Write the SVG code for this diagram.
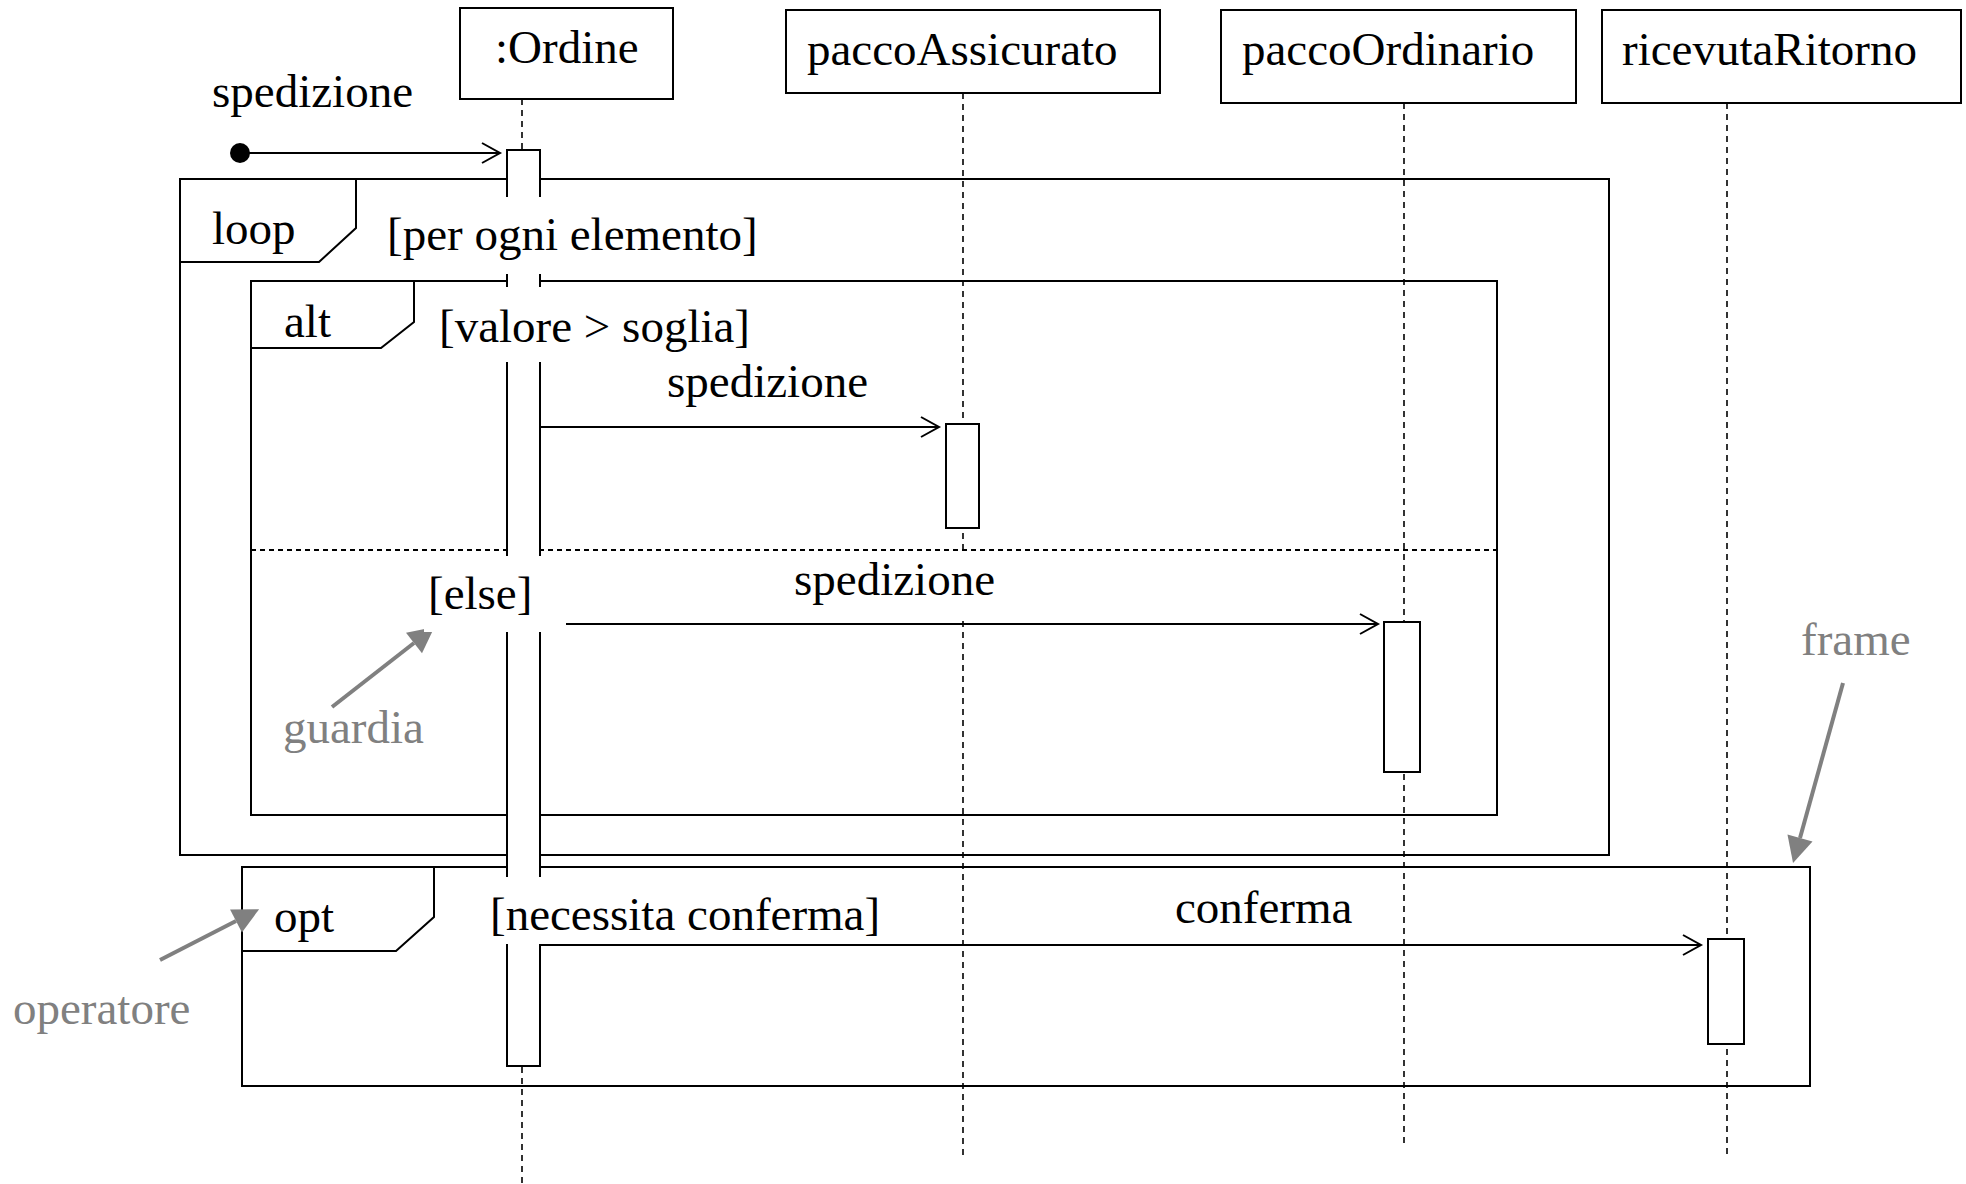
<svg xmlns="http://www.w3.org/2000/svg" width="1966" height="1184" viewBox="0 0 1966 1184">
<style>
text{font-family:"Liberation Serif","Times New Roman",serif;font-size:47px;fill:#000}
.note{fill:#808080}
.box{fill:#fff;stroke:#000;stroke-width:2}
.frame{fill:none;stroke:#000;stroke-width:2}
.life{stroke:#000;stroke-width:1.6;stroke-dasharray:6 5;fill:none}
.sep{stroke:#000;stroke-width:2;stroke-dasharray:5 4;fill:none}
.msg{stroke:#000;stroke-width:2.2;fill:none;marker-end:url(#open)}
.act{fill:#fff;stroke:#000;stroke-width:2}
.mask{fill:#fff;stroke:none}
.garrow{stroke:#808080;stroke-width:4;fill:none;marker-end:url(#tri)}
</style>
<defs>
<marker id="open" markerUnits="userSpaceOnUse" markerWidth="24" markerHeight="24" viewBox="-20 -12 22 24" refX="0" refY="0" orient="auto" overflow="visible">
<path d="M-18,-10 L0,0 L-18,10" fill="none" stroke="#000" stroke-width="2"/>
</marker>
<marker id="tri" markerUnits="userSpaceOnUse" markerWidth="26" markerHeight="26" viewBox="0 0 26 26" refX="0" refY="13" orient="auto" overflow="visible">
<path d="M0,0 L26,13 L0,26 z" fill="#808080"/>
</marker>
</defs>
<rect width="1966" height="1184" fill="#fff"/>

<g id="frames">
<g id="frame-loop">
<rect class="frame" x="180" y="179" width="1429" height="676"/>
<path class="frame" d="M180,262 L319,262 L356,228 L356,179"/>
<text x="212" y="244">loop</text>
</g>
<g id="frame-alt">
<rect class="frame" x="251" y="281" width="1246" height="534"/>
<path class="frame" d="M251,348 L381,348 L414,322 L414,281"/>
<line class="sep" x1="251" y1="550" x2="1497" y2="550"/>
<text x="284" y="337">alt</text>
</g>
<g id="frame-opt">
<rect class="frame" x="242" y="867" width="1568" height="219"/>
<path class="frame" d="M242,951 L396,951 L434,917 L434,867"/>
<text x="274" y="932">opt</text>
</g>
</g>

<g id="lifelines">
<line class="life" x1="522" y1="99" x2="522" y2="1184"/>
<line class="life" x1="963" y1="93" x2="963" y2="1156"/>
<line class="life" x1="1404" y1="103" x2="1404" y2="1148"/>
<line class="life" x1="1727" y1="103" x2="1727" y2="1154"/>
</g>

<g id="node-ordine">
<rect class="box" x="460" y="8" width="213" height="91"/>
<text x="495" y="63">:Ordine</text>
</g>
<g id="node-paccoAssicurato">
<rect class="box" x="786" y="10" width="374" height="83"/>
<text x="807" y="65">paccoAssicurato</text>
</g>
<g id="node-paccoOrdinario">
<rect class="box" x="1221" y="10" width="355" height="93"/>
<text x="1242" y="65">paccoOrdinario</text>
</g>
<g id="node-ricevutaRitorno">
<rect class="box" x="1602" y="10" width="359" height="93"/>
<text x="1622" y="65">ricevutaRitorno</text>
</g>

<g id="connectors">
<circle cx="240" cy="153" r="10" fill="#000"/>
<line class="msg" x1="240" y1="153" x2="500" y2="153"/>
<line class="msg" x1="540" y1="427" x2="939" y2="427"/>
<line class="msg" x1="540" y1="624" x2="1378" y2="624"/>
<line class="msg" x1="540" y1="945" x2="1701" y2="945"/>
<line class="garrow" x1="332" y1="707" x2="414" y2="643"/>
<line class="garrow" x1="160" y1="960" x2="236" y2="921"/>
<line class="garrow" x1="1843" y1="683" x2="1800" y2="838"/>
</g>

<g id="activations">
<rect class="act" x="507" y="150" width="33" height="916"/>
<rect class="act" x="946" y="424" width="33" height="104"/>
<rect class="act" x="1384" y="622" width="36" height="150"/>
<rect class="act" x="1708" y="939" width="36" height="105"/>
</g>

<g id="labels">
<rect class="mask" x="380" y="197" width="388" height="77"/>
<text x="387" y="250">[per ogni elemento]</text>
<rect class="mask" x="435" y="287" width="325" height="75"/>
<text x="439" y="342">[valore &gt; soglia]</text>
<rect class="mask" x="424" y="556" width="142" height="76"/>
<text x="428" y="609">[else]</text>
<rect class="mask" x="486" y="877" width="429" height="67"/>
<text x="490" y="930">[necessita conferma]</text>
<text x="212" y="107">spedizione</text>
<text x="667" y="397">spedizione</text>
<rect class="mask" x="790" y="553" width="212" height="67"/>
<text x="794" y="595">spedizione</text>
<text x="1175" y="923">conferma</text>
<text class="note" x="283" y="743">guardia</text>
<text class="note" x="13" y="1024">operatore</text>
<text class="note" x="1801" y="655">frame</text>
</g>
</svg>
